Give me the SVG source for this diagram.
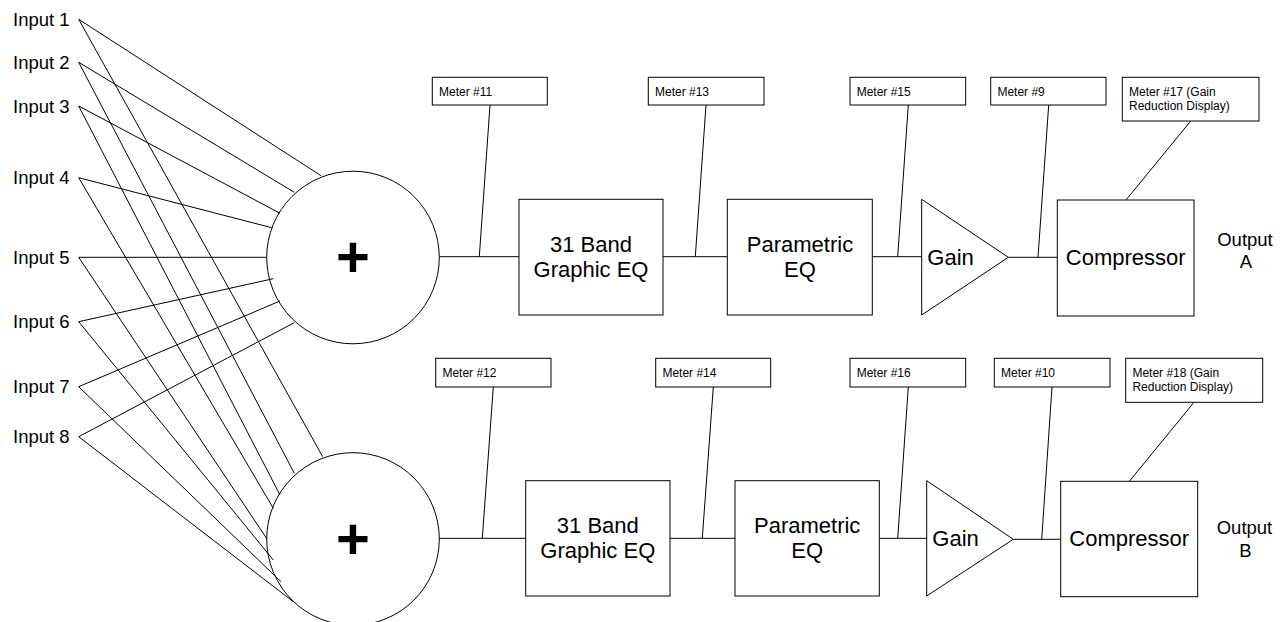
<svg xmlns="http://www.w3.org/2000/svg" width="1283" height="622" viewBox="0 0 1283 622">
<style>
.s{fill:none;stroke:#000;stroke-width:1}
.b{fill:#fff;stroke:#000;stroke-width:1}
.t{font-family:"Liberation Sans",Arial,sans-serif;fill:#000}
.in{font-size:18.5px}
.blk{font-size:22px}
.m{font-size:12px}
.plus{font-size:58px;font-weight:bold}
</style>
<rect width="1283" height="622" fill="#fff"/>
<g id="connectors" class="s">
<!-- inputs to top mixer -->
<line x1="78.7" y1="19.3" x2="321" y2="175.7"/>
<line x1="78.7" y1="62.3" x2="294.3" y2="192.3"/>
<line x1="78.7" y1="106" x2="280" y2="213.3"/>
<line x1="78.7" y1="177.7" x2="271.7" y2="227.7"/>
<line x1="78.7" y1="257.3" x2="266.7" y2="257.3"/>
<line x1="78.7" y1="321.7" x2="273.3" y2="278.7"/>
<line x1="78.7" y1="386.7" x2="280" y2="301"/>
<line x1="78.7" y1="436.7" x2="294.3" y2="322.7"/>
<!-- inputs to bottom mixer -->
<line x1="78.7" y1="19.3" x2="322.7" y2="456.7"/>
<line x1="78.7" y1="62.3" x2="294.3" y2="473.3"/>
<line x1="78.7" y1="106" x2="280" y2="495"/>
<line x1="78.7" y1="177.7" x2="273.3" y2="508.3"/>
<line x1="78.7" y1="257.3" x2="267" y2="539"/>
<line x1="78.7" y1="321.7" x2="273.3" y2="560"/>
<line x1="78.7" y1="386.7" x2="281" y2="581.7"/>
<line x1="78.7" y1="436.7" x2="293.3" y2="601.7"/>
<!-- chain A -->
<line x1="439.3" y1="256.7" x2="519" y2="256.7"/>
<line x1="663" y1="256.7" x2="727.3" y2="256.7"/>
<line x1="872.3" y1="256.7" x2="921.7" y2="256.7"/>
<line x1="1008.3" y1="257.3" x2="1057.3" y2="257.3"/>
<line x1="490" y1="105" x2="479.3" y2="256.7"/>
<line x1="706" y1="105" x2="695.3" y2="256.7"/>
<line x1="908.3" y1="105" x2="897.7" y2="256.7"/>
<line x1="1048.7" y1="105" x2="1038" y2="257.3"/>
<line x1="1190.7" y1="121" x2="1126" y2="200"/>
<!-- chain B -->
<line x1="439.3" y1="538.3" x2="525.7" y2="538.3"/>
<line x1="670" y1="538.3" x2="735" y2="538.3"/>
<line x1="879.3" y1="538.3" x2="926.7" y2="538.3"/>
<line x1="1013.3" y1="539.3" x2="1060.7" y2="539.3"/>
<line x1="493.3" y1="387" x2="482.3" y2="538.3"/>
<line x1="713.3" y1="387" x2="702.3" y2="538.3"/>
<line x1="908.3" y1="387" x2="897.7" y2="538.3"/>
<line x1="1052" y1="387" x2="1041.7" y2="539.3"/>
<line x1="1194" y1="402.3" x2="1129.3" y2="481.3"/>
</g>
<g id="inputs" class="t in">
<text x="13" y="26">Input 1</text>
<text x="13" y="69">Input 2</text>
<text x="13" y="112.7">Input 3</text>
<text x="13" y="184.4">Input 4</text>
<text x="13" y="264">Input 5</text>
<text x="13" y="328.4">Input 6</text>
<text x="13" y="393.4">Input 7</text>
<text x="13" y="443.4">Input 8</text>
</g>
<g id="mixerA">
<circle class="b" cx="353" cy="257.5" r="86.3" fill="none" style="fill:none"/>
<text class="t plus" x="353" y="277" text-anchor="middle">+</text>
</g>
<g id="mixerB">
<circle class="b" cx="353" cy="539" r="86.3" style="fill:none"/>
<text class="t plus" x="353" y="558.5" text-anchor="middle">+</text>
</g>
<g id="geqA">
<rect class="b" x="519" y="199.3" width="144" height="115.7"/>
<text class="t blk" x="591" y="251.7" text-anchor="middle">31 Band</text>
<text class="t blk" x="591" y="277.3" text-anchor="middle">Graphic EQ</text>
</g>
<g id="peqA">
<rect class="b" x="727.3" y="199.3" width="145" height="115.7"/>
<text class="t blk" x="800" y="251.7" text-anchor="middle">Parametric</text>
<text class="t blk" x="800" y="277.3" text-anchor="middle">EQ</text>
</g>
<g id="gainA">
<polygon class="b" points="921.7,199.3 1008.3,257.3 921.7,315"/>
<text class="t blk" x="927.3" y="264.5">Gain</text>
</g>
<g id="compA">
<rect class="b" x="1057.3" y="200" width="136.7" height="116"/>
<text class="t blk" x="1125.7" y="264.5" text-anchor="middle">Compressor</text>
</g>
<g id="outA">
<text class="t in" x="1245" y="245.7" text-anchor="middle">Output</text>
<text class="t in" x="1246" y="267.7" text-anchor="middle">A</text>
</g>
<g id="meter11"><rect class="b" x="432.3" y="77.3" width="115" height="27.7"/><text class="t m" x="439" y="95.5">Meter #11</text></g>
<g id="meter13"><rect class="b" x="648.3" y="77.3" width="115.7" height="27.7"/><text class="t m" x="655" y="95.5">Meter #13</text></g>
<g id="meter15"><rect class="b" x="850" y="77.3" width="115.7" height="27.7"/><text class="t m" x="856.7" y="95.5">Meter #15</text></g>
<g id="meter9"><rect class="b" x="990.7" y="77.3" width="115.3" height="27.7"/><text class="t m" x="997.4" y="95.5">Meter #9</text></g>
<g id="meter17"><rect class="b" x="1122.3" y="77.3" width="136.7" height="43.7"/><text class="t m" x="1129" y="95.5">Meter #17 (Gain</text><text class="t m" x="1129" y="109.5">Reduction Display)</text></g>
<g id="geqB">
<rect class="b" x="525.7" y="480.7" width="144.3" height="115.3"/>
<text class="t blk" x="597.8" y="532.7" text-anchor="middle">31 Band</text>
<text class="t blk" x="597.8" y="558.3" text-anchor="middle">Graphic EQ</text>
</g>
<g id="peqB">
<rect class="b" x="735" y="480.7" width="144.3" height="115.3"/>
<text class="t blk" x="807.2" y="532.7" text-anchor="middle">Parametric</text>
<text class="t blk" x="807.2" y="558.3" text-anchor="middle">EQ</text>
</g>
<g id="gainB">
<polygon class="b" points="926.7,480.7 1013.3,539.3 926.7,596"/>
<text class="t blk" x="932.3" y="546">Gain</text>
</g>
<g id="compB">
<rect class="b" x="1060.7" y="481.3" width="137" height="115.4"/>
<text class="t blk" x="1129.2" y="546" text-anchor="middle">Compressor</text>
</g>
<g id="outB">
<text class="t in" x="1244.5" y="534" text-anchor="middle">Output</text>
<text class="t in" x="1245.3" y="556.7" text-anchor="middle">B</text>
</g>
<g id="meter12"><rect class="b" x="435.7" y="358.3" width="115.3" height="28.7"/><text class="t m" x="442.4" y="377">Meter #12</text></g>
<g id="meter14"><rect class="b" x="655.7" y="358.3" width="115" height="28.7"/><text class="t m" x="662.4" y="377">Meter #14</text></g>
<g id="meter16"><rect class="b" x="850" y="358.3" width="115.7" height="28.7"/><text class="t m" x="856.7" y="377">Meter #16</text></g>
<g id="meter10"><rect class="b" x="994.3" y="358.3" width="115.7" height="28.7"/><text class="t m" x="1001" y="377">Meter #10</text></g>
<g id="meter18"><rect class="b" x="1125.7" y="358.3" width="137" height="44"/><text class="t m" x="1132.4" y="377">Meter #18 (Gain</text><text class="t m" x="1132.4" y="391">Reduction Display)</text></g>
</svg>
